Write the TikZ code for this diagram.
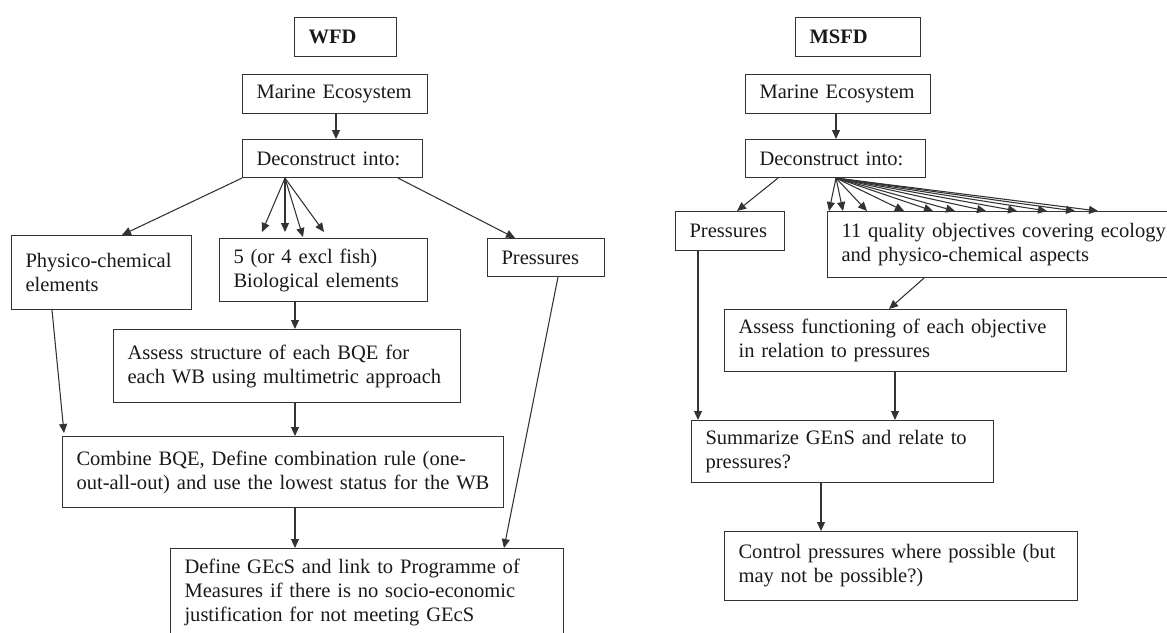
\documentclass[tikz,border=0pt]{standalone}
\usepackage{fontspec}
\setmainfont{Liberation Serif}
\usetikzlibrary{arrows.meta,calc}

\tikzset{
  box/.style={draw=black!80, line width=0.8pt, anchor=north west,
    inner xsep=10.5pt, inner ysep=0pt, align=left, text=black!90},
  arr/.style={draw=black!80, line width=0.8pt,
    -{Triangle[length=6.75pt,width=6pt]}},
}

\begin{document}
\begin{tikzpicture}[x=0.75pt,y=-0.75pt,font=\fontsize{15.4}{18}\selectfont]
\useasboundingbox (0,0) rectangle (1167,632);
\clip (0,0) rectangle (1167,632);

% ---------------- WFD column ----------------
\node[box, minimum width=76.5pt, minimum height=29.25pt, text width=55.5pt] (wfd) at (294,17) {\textbf{WFD}};
\node[box, minimum width=138.75pt, minimum height=29.25pt, text width=117.75pt] (meL) at (242,74) {Marine Ecosystem};
\node[box, minimum width=135pt, minimum height=28.5pt, text width=114pt] (decL) at (242,139) {Deconstruct into:};
\node[box, minimum width=135pt, minimum height=55.5pt, text width=114pt] (phys) at (11,235) {Physico-chemical\\elements};
\node[box, minimum width=156pt, minimum height=47.25pt, text width=135pt] (bio) at (219,238) {5 (or 4 excl fish)\\Biological elements};
\node[box, minimum width=87.75pt, minimum height=28.5pt, text width=66.75pt] (presL) at (487,238) {Pressures};
\node[box, minimum width=260.25pt, minimum height=54.75pt, text width=239.25pt] (assL) at (113,329) {Assess structure of each BQE for\\each WB using multimetric approach};
\node[box, minimum width=330.75pt, minimum height=53.25pt, text width=309.75pt] (comb) at (62,436) {Combine BQE, Define combination rule (one-\\out-all-out) and use the lowest status for the WB};
\node[box, minimum width=294.75pt, minimum height=66pt, text width=273.75pt] (def) at (170,548) {Define GEcS and link to Programme of\\Measures if there is no socio-economic\\justification for not meeting GEcS};

\draw[arr] ($(meL.south west)+(94,0)$) -- ($(decL.north west)+(94,0)$);
\draw[arr] (decL.south west) -- ($(phys.north west)+(111,0)$);
\foreach \dx/\dy in {43/-6, 66/-6, 84/-1, 105/-6}
  \draw[arr] ($(decL.south west)+(43,0)$) -- ($(bio.north west)+(\dx,\dy)$);
\draw[arr] ($(decL.south west)+(156,0)$) -- ($(presL.north west)+(28,0)$);
\draw[arr] ($(bio.south west)+(76,0)$) -- ($(assL.north west)+(182,0)$);
\draw[arr] ($(phys.south west)+(41,0)$) -- ($(comb.north west)+(2,-3)$);
\draw[arr] ($(assL.south west)+(182,0)$) -- ($(comb.north west)+(233,0)$);
\draw[arr] ($(comb.south west)+(233,0)$) -- ($(def.north west)+(125,0)$);
\draw[arr] ($(presL.south west)+(71,0)$) -- ($(def.north west)+(334,0)$);

% ---------------- MSFD column ----------------
\node[box, minimum width=93.75pt, minimum height=29.25pt, text width=72.75pt] (msfd) at (795,17) {\textbf{MSFD}};
\node[box, minimum width=138.75pt, minimum height=29.25pt, text width=117.75pt] (meR) at (745,74) {Marine Ecosystem};
\node[box, minimum width=135pt, minimum height=28.5pt, text width=114pt] (decR) at (745,139) {Deconstruct into:};
\node[box, minimum width=81.75pt, minimum height=29.25pt, text width=60.75pt] (presR) at (675,211) {Pressures};
\node[box, minimum width=279.75pt, minimum height=49.5pt, text width=258.75pt] (qual) at (827,211) {11 quality objectives covering ecology\\and physico-chemical aspects};
\node[box, minimum width=256.5pt, minimum height=46.5pt, text width=235.5pt] (assR) at (724,309) {Assess functioning of each objective\\in relation to pressures};
\node[box, minimum width=226.5pt, minimum height=46.5pt, text width=205.5pt] (sum) at (691,420) {Summarize GEnS and relate to\\pressures?};
\node[box, minimum width=264.75pt, minimum height=51.75pt, text width=243.75pt] (ctl) at (724,531) {Control pressures where possible (but\\may not be possible?)};

\draw[arr] ($(meR.south west)+(91,0)$) -- ($(decR.north west)+(91,0)$);
\draw[arr] ($(decR.south west)+(33,0)$) -- ($(presR.north west)+(62,0)$);
\foreach \dx in {2,16,40,77,106,128,159,190,220,248,271}
  \draw[arr] ($(decR.south west)+(91,0)$) -- ($(qual.north west)+(\dx,0)$);
\draw[arr] ($(qual.south west)+(97,0)$) -- ($(assR.north west)+(165,0)$);
\draw[arr] ($(assR.south west)+(171,0)$) -- ($(sum.north west)+(204,0)$);
\draw[arr] ($(presR.south west)+(23,0)$) -- ($(sum.north west)+(7,0)$);
\draw[arr] ($(sum.south west)+(130,0)$) -- ($(ctl.north west)+(97,0)$);
\end{tikzpicture}
\end{document}
